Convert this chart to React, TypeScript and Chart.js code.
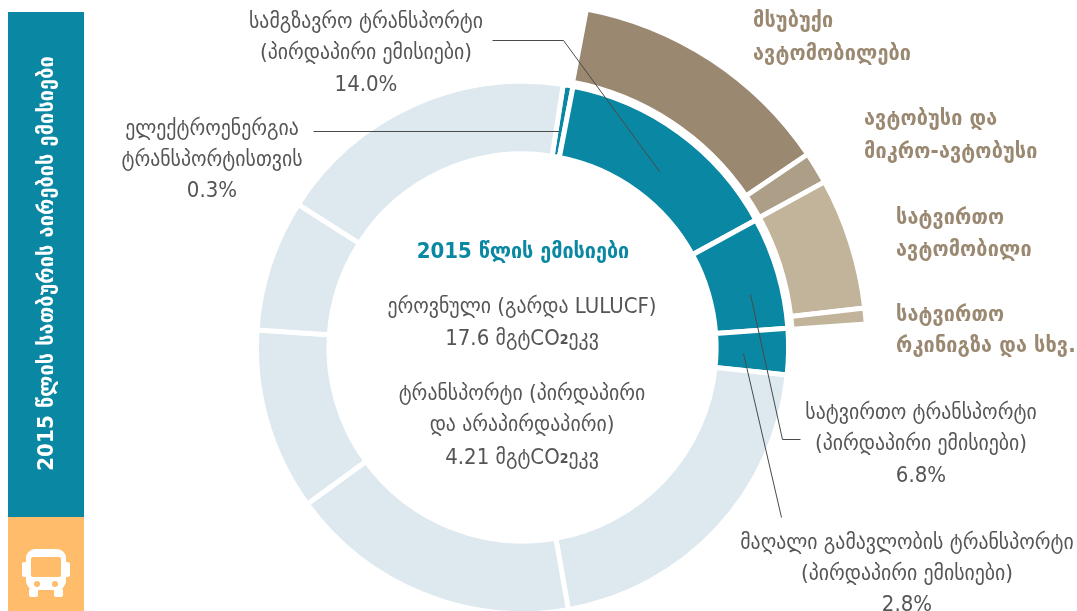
import React, { useEffect, useRef } from "react";
import { Chart, registerables } from "chart.js";

Chart.register(...registerables);

// Inner ring: transport shares (% of national emissions) followed by the remaining pale segments
const innerLabels = ["ელექტროენერგია ტრანსპორტისთვის", "სამგზავრო ტრანსპორტი", "სატვირთო ტრანსპორტი", "მაღალი გამავლობის ტრანსპორტი", "სხვა 1", "სხვა 2", "სხვა 3", "სხვა 4", "სხვა 5"];
const innerValues = [0.6, 14.0, 6.8, 2.8, 20.6, 17.75, 11.05, 8.0, 18.4];
const innerColors = ["#0a87a3", "#0a87a3", "#0a87a3", "#0a87a3", "#dde8ef", "#dde8ef", "#dde8ef", "#dde8ef", "#dde8ef"];

// Outer ring: breakdown of passenger and freight road transport
const outerLabels = ["მსუბუქი ავტომობილები", "ავტობუსი და მიკრო-ავტობუსი", "სატვირთო ავტომობილი", "სატვირთო რკინიგზა და სხვ."];
const outerValues = [12.55, 1.5, 6.15, 0.75];
const outerColors = ["#9a8871", "#ad9e87", "#c2b49a", "#c2b49a"];

const START_ANGLE = 8.8;
const OUTER_START = 10.7;
const OUTER_SWEEP = 75.4;

const SANS = '"DejaVu Sans Condensed", "DejaVu Sans", sans-serif';
const TEXT = "#555555";
const TAN = "#9a8871";
const TEAL = "#0a87a3";

const plainLabels: [string, number, number][] = [
  ["სამგზავრო ტრანსპორტი", 366, 28],
  ["(პირდაპირი ემისიები)", 366, 59],
  ["14.0%", 366, 91],
  ["ელექტროენერგია", 212, 135],
  ["ტრანსპორტისთვის", 212, 166],
  ["0.3%", 212, 197],
  ["ეროვნული (გარდა LULUCF)", 522, 313],
  ["ტრანსპორტი (პირდაპირი", 522, 400],
  ["და არაპირდაპირი)", 522, 431],
  ["სატვირთო ტრანსპორტი", 921, 419],
  ["(პირდაპირი ემისიები)", 921, 450],
  ["6.8%", 921, 482],
  ["მაღალი გამავლობის ტრანსპორტი", 907, 549],
  ["(პირდაპირი ემისიები)", 907, 580],
  ["2.8%", 907, 611],
];

// Unit lines: text before the bold "2", then text after it
const unitLabels: [string, string, number, number][] = [
  ["17.6 მგტCO", "ეკვ", 522, 345],
  ["4.21 მგტCO", "ეკვ", 522, 464],
];

const boldLabels: [string, number, number][] = [
  ["მსუბუქი", 753, 27],
  ["ავტომობილები", 753, 60],
  ["ავტობუსი და", 864, 125],
  ["მიკრო-ავტობუსი", 864, 158],
  ["სატვირთო", 896, 224],
  ["ავტომობილი", 896, 256],
  ["სატვირთო", 896, 321],
  ["რკინიგზა და სხვ.", 896, 352],
];

const leaders: [number, number][][] = [
  [[492, 40], [563, 40], [659, 171]],
  [[313, 131], [559, 131]],
  [[750, 294], [782, 439], [800, 439]],
  [[743, 353], [781, 517]],
];

const sidebarTitle = "2015 წლის სათბურის აირების ემისიები";
const centerTitle = "2015 წლის ემისიები";

function drawBus(ctx: CanvasRenderingContext2D) {
  ctx.fillStyle = "#ffffff";
  ctx.beginPath(); ctx.roundRect(26, 549, 40, 41, 9); ctx.fill();
  ctx.beginPath(); ctx.roundRect(22, 562, 5, 15, 2); ctx.fill();
  ctx.beginPath(); ctx.roundRect(65, 562, 5, 15, 2); ctx.fill();
  ctx.beginPath(); ctx.roundRect(29, 588, 9, 9, 2); ctx.fill();
  ctx.beginPath(); ctx.roundRect(54, 588, 9, 9, 2); ctx.fill();
  ctx.fillStyle = "#ffbc6b";
  ctx.beginPath(); ctx.roundRect(31, 557, 30, 20, 2); ctx.fill();
  ctx.beginPath(); ctx.arc(37, 584, 3, 0, Math.PI * 2); ctx.fill();
  ctx.beginPath(); ctx.arc(55, 584, 3, 0, Math.PI * 2); ctx.fill();
}

const decorations = {
  id: "decorations",
  afterDraw(chart: any) {
    const ctx: CanvasRenderingContext2D = chart.ctx;
    ctx.save();
    ctx.fillStyle = TEAL;
    ctx.fillRect(8, 12, 76, 505);
    ctx.fillStyle = "#ffbc6b";
    ctx.fillRect(8, 517, 76, 94);
    drawBus(ctx);

    ctx.strokeStyle = "#4a4a4a";
    ctx.lineWidth = 1;
    for (const path of leaders) {
      ctx.beginPath();
      path.forEach(([x, y], i) => (i ? ctx.lineTo(x + 0.5, y + 0.5) : ctx.moveTo(x + 0.5, y + 0.5)));
      ctx.stroke();
    }

    ctx.textBaseline = "alphabetic";
    ctx.textAlign = "center";
    ctx.fillStyle = TEXT;
    ctx.font = `22px ${SANS}`;
    for (const [t, x, y] of plainLabels) ctx.fillText(t, x, y);

    ctx.textAlign = "left";
    for (const [before, after, cx, y] of unitLabels) {
      const regular = `22px ${SANS}`;
      const small = `bold 14px ${SANS}`;
      ctx.font = regular;
      const w1 = ctx.measureText(before).width;
      const w3 = ctx.measureText(after).width;
      ctx.font = small;
      const w2 = ctx.measureText("2").width;
      const x0 = cx - (w1 + w2 + w3) / 2;
      ctx.font = regular;
      ctx.fillText(before, x0, y);
      ctx.fillText(after, x0 + w1 + w2, y);
      ctx.font = small;
      ctx.fillText("2", x0 + w1, y - 1);
    }

    ctx.textAlign = "center";
    ctx.fillStyle = TEAL;
    ctx.font = `bold 22px ${SANS}`;
    ctx.fillText(centerTitle, 523, 258);

    ctx.textAlign = "left";
    ctx.fillStyle = TAN;
    ctx.font = `bold 22px ${SANS}`;
    (ctx as any).letterSpacing = "0.15px";
    for (const [t, x, y] of boldLabels) ctx.fillText(t, x, y);

    ctx.translate(53, 263.5);
    ctx.rotate(-Math.PI / 2);
    ctx.textAlign = "center";
    ctx.fillStyle = "#ffffff";
    ctx.fillText(sidebarTitle, 0, 0);
    (ctx as any).letterSpacing = "0px";
    ctx.restore();
  },
};

export default function App() {
  const ref = useRef<HTMLCanvasElement>(null);
  useEffect(() => {
    document.body.style.margin = "0";
    document.body.style.overflow = "hidden";
    const chart = new Chart(ref.current!, {
      type: "doughnut",
      data: {
        labels: innerLabels,
        datasets: [
          {
            label: "outer",
            data: outerValues,
            backgroundColor: outerColors,
            borderColor: "#ffffff",
            borderWidth: 5,
            weight: 75,
            rotation: OUTER_START,
            circumference: OUTER_SWEEP,
          } as any,
          {
            label: "spacer",
            data: [1],
            backgroundColor: "rgba(0,0,0,0)",
            borderWidth: 0,
            weight: 4,
          } as any,
          {
            label: "inner",
            data: innerValues,
            backgroundColor: innerColors,
            borderColor: "#ffffff",
            borderWidth: 5,
            weight: 73,
            rotation: START_ANGLE,
          } as any,
        ],
      },
      options: {
        responsive: false,
        animation: false,
        cutout: "56.2%",
        layout: { padding: { left: 175.5, right: 207.5, top: 0.5, bottom: 5.5 } },
        plugins: { legend: { display: false }, tooltip: { enabled: false } },
      },
      plugins: [decorations],
    });
    return () => chart.destroy();
  }, []);
  return (
    <div style={{ position: "fixed", left: 0, top: 0, width: 1077, height: 611, overflow: "hidden" }}>
      <canvas ref={ref} width={1077} height={700} style={{ display: "block" }} />
    </div>
  );
}
